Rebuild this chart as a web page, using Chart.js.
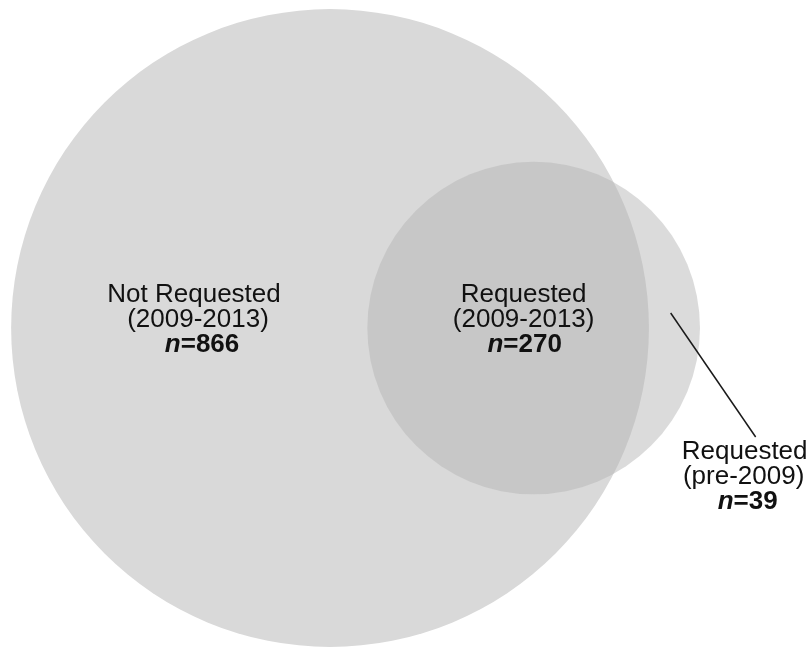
<!DOCTYPE html>
<html>
<head>
<meta charset="utf-8">
<script src="https://cdn.jsdelivr.net/npm/chart.js@4/dist/chart.umd.min.js"></script>
<style>
  html, body { margin: 0; padding: 0; background: #ffffff; }
  #wrap { width: 811px; height: 652px; }
</style>
</head>
<body>
<div id="wrap"><canvas id="c" width="811" height="652"></canvas></div>
<script>
// ---- data ----
const regionNames = ['Not Requested', 'Requested', 'Requested'];
const regionPeriods = ['(2009-2013)', '(2009-2013)', '(pre-2009)'];
const regionCounts = [866, 270, 39];

// sets (circles) built from the region counts
const setTotals = [regionCounts[0] + regionCounts[1], regionCounts[1] + regionCounts[2]];
const overlapCount = regionCounts[1];

// radius so that circle area equals the count (in scale units)
const rad = setTotals.map(v => Math.sqrt(v / Math.PI));

function lensArea(r1, r2, d) {
  if (d >= r1 + r2) return 0;
  if (d <= Math.abs(r1 - r2)) return Math.PI * Math.min(r1, r2) ** 2;
  const a1 = Math.acos((d * d + r1 * r1 - r2 * r2) / (2 * d * r1));
  const a2 = Math.acos((d * d + r2 * r2 - r1 * r1) / (2 * d * r2));
  const k = Math.sqrt((-d + r1 + r2) * (d + r1 - r2) * (d - r1 + r2) * (d + r1 + r2));
  return r1 * r1 * a1 + r2 * r2 * a2 - 0.5 * k;
}
// distance between centres giving the overlap area
let lo = Math.abs(rad[0] - rad[1]), hi = rad[0] + rad[1];
for (let i = 0; i < 80; i++) {
  const mid = (lo + hi) / 2;
  if (lensArea(rad[0], rad[1], mid) > overlapCount) lo = mid; else hi = mid;
}
const centreDist = (lo + hi) / 2;

const circlePoints = [
  { x: 0, y: 0 },
  { x: centreDist, y: 0 }
];
const circleFill = ['#d9d9d9', 'rgba(180,180,180,0.48)'];

// ---- label plugin ----
const FONT = '"Liberation Sans", Arial, sans-serif';
const FS = 26;
const labelPlugin = {
  id: 'vennLabels',
  afterDatasetsDraw(chart) {
    const { ctx } = chart;
    const xs = chart.scales.x, ys = chart.scales.y;
    const cx0 = xs.getPixelForValue(circlePoints[0].x), cy0 = ys.getPixelForValue(0);
    const cx1 = xs.getPixelForValue(circlePoints[1].x);
    const anchors = [
      { x: cx0 - 136, y: cy0 - 33, dx: [0, 4, 8] },
      { x: cx1 - 10, y: cy0 - 33, dx: [0, 0, 1] },
      { x: cx1 + 211, y: cy0 + 124, dx: [0, -1, 3] }
    ];
    const lineH = 25;
    ctx.save();
    ctx.fillStyle = '#111111';
    ctx.textBaseline = 'middle';
    anchors.forEach((a, i) => {
      ctx.textAlign = 'center';
      ctx.font = FS + 'px ' + FONT;
      ctx.fillText(regionNames[i], a.x + a.dx[0], a.y);
      ctx.fillText(regionPeriods[i], a.x + a.dx[1], a.y + lineH);
      // n=value
      const p1 = 'n', p2 = '=' + regionCounts[i];
      ctx.font = 'italic bold ' + FS + 'px ' + FONT;
      const w1 = ctx.measureText(p1).width;
      ctx.font = 'bold ' + FS + 'px ' + FONT;
      const w2 = ctx.measureText(p2).width;
      const sx = a.x + a.dx[2] - (w1 + w2) / 2;
      ctx.textAlign = 'left';
      ctx.font = 'italic bold ' + FS + 'px ' + FONT;
      ctx.fillText(p1, sx, a.y + 2 * lineH);
      ctx.font = 'bold ' + FS + 'px ' + FONT;
      ctx.fillText(p2, sx + w1, a.y + 2 * lineH);
    });
    // leader line to the pre-2009 crescent
    ctx.strokeStyle = '#1a1a1a';
    ctx.lineWidth = 1.5;
    ctx.beginPath();
    ctx.moveTo(cx1 + 137, cy0 - 15);
    ctx.lineTo(cx1 + 222, cy0 + 109);
    ctx.stroke();
    ctx.restore();
  }
};

// ---- chart ----
new Chart(document.getElementById('c'), {
  type: 'scatter',
  data: {
    datasets: [{
      data: circlePoints,
      showLine: false,
      pointBackgroundColor: circleFill,
      pointBorderWidth: 0,
      pointBorderColor: 'rgba(0,0,0,0)',
      clip: false,
      pointRadius: (ctx) => {
        const s = ctx.chart.scales.x;
        const ppu = s.getPixelForValue(1) - s.getPixelForValue(0);
        return rad[ctx.dataIndex] * ppu;
      },
      pointHoverRadius: (ctx) => {
        const s = ctx.chart.scales.x;
        const ppu = s.getPixelForValue(1) - s.getPixelForValue(0);
        return rad[ctx.dataIndex] * ppu;
      }
    }]
  },
  options: {
    responsive: false,
    animation: false,
    events: [],
    layout: { padding: 0 },
    scales: {
      x: { type: 'linear', display: false, min: -19.68, max: 28.68 },
      y: { type: 'linear', display: false, min: -19.32, max: 19.56 }
    },
    plugins: { legend: { display: false }, tooltip: { enabled: false } }
  },
  plugins: [labelPlugin]
});
</script>
</body>
</html>
